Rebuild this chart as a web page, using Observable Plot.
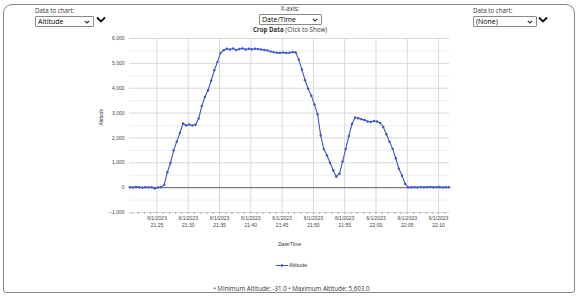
<!DOCTYPE html>
<html><head><meta charset="utf-8">
<script src="https://cdn.jsdelivr.net/npm/d3@7"></script>
<script src="https://cdn.jsdelivr.net/npm/@observablehq/plot@0.6"></script>
<style>
html,body{margin:0;padding:0;background:#fff;width:583px;height:300px;overflow:hidden;font-family:"Open Sans",sans-serif;}
#frame{position:absolute;left:3px;top:4px;width:570px;height:287px;border:1.5px solid #8a8a8a;border-radius:9px 9px 3px 3px;}
#chart{position:absolute;left:0;top:0;}
.lbl{position:absolute;font-size:6.2px;color:#333;white-space:nowrap;}
select{position:absolute;-webkit-appearance:none;appearance:none;font-family:"Open Sans",sans-serif;font-size:7px;line-height:9px;height:11px;padding:0 0 0 2px;border:1px solid #8a8a8a;border-radius:1px;color:#000;
  background:#fff url("data:image/svg+xml;utf8,<svg xmlns='http://www.w3.org/2000/svg' width='6' height='4'><polyline points='0.8,0.8 3,3 5.2,0.8' fill='none' stroke='%23333' stroke-width='1.1'/></svg>") no-repeat right 3px center;}
.chev{position:absolute;}
#legend{position:absolute;left:0;width:583px;top:262px;text-align:center;font-size:5.5px;color:#333;font-family:"Liberation Sans",Arial,sans-serif;}
#footer{position:absolute;left:0;width:583px;top:284px;text-align:center;font-size:6.2px;color:#333;}
</style></head>
<body>
<div id="frame"></div>
<div id="chart"></div>
<div class="lbl" style="left:35px;top:6px;">Data to chart:</div>
<select style="left:35px;top:16px;width:59px;"><option>Altitude</option></select>
<svg class="chev" style="left:96px;top:16px;" width="10" height="7"><polyline points="1,1.5 5,5.5 9,1.5" fill="none" stroke="#111" stroke-width="1.8"/></svg>
<div class="lbl" style="left:0;width:580px;text-align:center;top:4px;">X-axis:</div>
<select style="left:259px;top:14px;width:63px;"><option>Date/Time</option></select>
<div class="lbl" style="left:0;width:580px;text-align:center;top:25px;"><b>Crop Data</b> (Click to Show)</div>
<div class="lbl" style="left:473px;top:6px;">Data to chart:</div>
<select style="left:473px;top:16px;width:64px;"><option>(None)</option></select>
<svg class="chev" style="left:538px;top:16px;" width="10" height="7"><polyline points="1,1.5 5,5.5 9,1.5" fill="none" stroke="#111" stroke-width="1.8"/></svg>
<div id="legend"><svg width="12" height="5" style="vertical-align:middle"><line x1="0" y1="2.5" x2="12" y2="2.5" stroke="#4353c8" stroke-width="1"/><circle cx="6" cy="2.5" r="1.3" fill="#4353c8"/></svg> Altitude</div>
<div id="footer">• Minimum Altitude: -31.0 • Maximum Altitude: 5,603.0</div>
<script>
// Data (30-second samples starting 6/1/2023 21:20:40)
const startTime = "2023-06-01T21:20:40Z";
const sampleSeconds = 30;
const altitude = [
  20, 10, 25, 15, 0, 20, 10, 15, -31, 10,
  20, 120, 620, 990, 1500, 1850, 2200, 2580, 2500, 2540,
  2500, 2530, 2780, 3280, 3650, 3920, 4300, 4720, 5050, 5420,
  5530, 5590, 5560, 5600, 5540, 5580, 5603, 5560, 5590, 5570,
  5590, 5580, 5560, 5540, 5520, 5480, 5450, 5430, 5420, 5440,
  5420, 5430, 5450, 5440, 5150, 4750, 4320, 3980, 3700, 3350,
  2950, 2100, 1550, 1300, 1000, 700, 440, 560, 1050, 1560,
  2080, 2560, 2820, 2790, 2750, 2720, 2660, 2640, 2680, 2660,
  2600, 2440, 2150, 1850, 1560, 1180, 760, 480, 150, 10,
  15, 20, 10, 25, 15, 20, 30, 15, 20, 25,
  10, 20, 15
];
const xDomain = ["2023-06-01T21:20:37Z", "2023-06-01T22:11:45Z"];
const xMajorTicks = ["21:25","21:30","21:35","21:40","21:45","21:50","21:55","22:00","22:05","22:10"];
const yTicks = [-1000, 0, 1000, 2000, 3000, 4000, 5000, 6000];
const yMinorTicks = [-500, 500, 1500, 2500, 3500, 4500, 5500];
const seriesColor = "#4353c8";

const data = altitude.map((a, i) => ({time: new Date(Date.parse(startTime) + i * sampleSeconds * 1000), altitude: a}));
const xMajor = xMajorTicks.map(s => new Date("2023-06-01T" + s + ":00Z"));
const domain = xDomain.map(s => new Date(s));
const xMinor = d3.utcMinute.range(domain[0], domain[1]);
const fmtDate = d3.utcFormat("%-m/%-d/%Y"), fmtTime = d3.utcFormat("%H:%M");

const chart = Plot.plot({
  width: 583, height: 260,
  marginTop: 38, marginBottom: 48, marginLeft: 129, marginRight: 134,
  style: {fontFamily: "Liberation Sans, Arial, sans-serif", fontSize: "5px", color: "#444", background: "transparent"},
  x: {type: "utc", domain},
  y: {domain: [-1000, 6000]},
  marks: [
    Plot.gridY(yMinorTicks, {stroke: "#efefef", strokeOpacity: 1}),
    Plot.gridY(yTicks, {stroke: "#d9d9d9", strokeOpacity: 1}),
    Plot.gridX(xMajor, {stroke: "#d9d9d9", strokeOpacity: 1}),
    Plot.axisY(yTicks, {tickSize: 0, tickPadding: 5, tickFormat: d3.format(","), label: null}),
    Plot.axisX(xMinor, {tickSize: 2, tickFormat: () => "", label: null, stroke: "#aaa"}),
    Plot.axisX(xMajor, {tickSize: 0, tickPadding: 3, lineHeight: 1.35, tickFormat: d => fmtDate(d) + "\n" + fmtTime(d), label: null}),
    Plot.ruleY([0], {stroke: "#666", strokeWidth: 1}),
    Plot.line(data, {x: "time", y: "altitude", stroke: seriesColor, strokeWidth: 1.1}),
    Plot.dot(data, {x: "time", y: "altitude", fill: seriesColor, r: 1.2}),
    Plot.text(["Altitude"], {text: d => d, frameAnchor: "left", dx: -28, rotate: -90, fontStyle: "italic", fill: "#333"}),
    Plot.text(["Date/Time"], {text: d => d, frameAnchor: "bottom", dy: 33, fontStyle: "italic", fill: "#333"})
  ]
});
document.getElementById("chart").appendChild(chart);
</script>
</body></html>
